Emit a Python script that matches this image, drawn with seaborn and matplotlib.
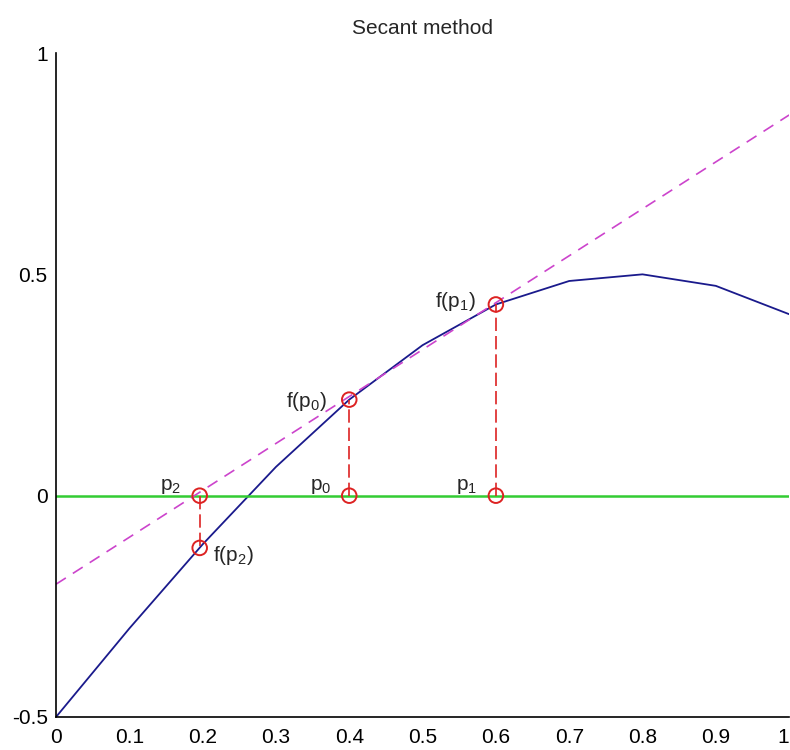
import numpy as np
import matplotlib
matplotlib.use("Agg")
import matplotlib.pyplot as plt
import seaborn as sns
import pandas as pd

x_curve = [0.0, 0.1, 0.2, 0.3, 0.4, 0.5, 0.6, 0.7, 0.8, 0.9, 1.0]
y_curve = [-0.5, -0.30, -0.11, 0.065, 0.217, 0.34, 0.432, 0.485, 0.50, 0.474, 0.41]

# secant line through (p0, f(p0)) and (p1, f(p1))
x_secant = [0.0, 1.0]
y_secant = [-0.20, 0.86]

# zero line
x_zero = [0.0, 1.0]
y_zero = [0.0, 0.0]

# iterates
p_names = ["0", "1", "2"]
p_vals = [0.4, 0.6, 0.196]
fp_vals = [0.217, 0.432, -0.118]

x_ticks = [0, 0.1, 0.2, 0.3, 0.4, 0.5, 0.6, 0.7, 0.8, 0.9, 1]
x_ticklabels = ["0", "0.1", "0.2", "0.3", "0.4", "0.5", "0.6", "0.7", "0.8", "0.9", "1"]
y_ticks = [-0.5, 0, 0.5, 1]
y_ticklabels = ["-0.5", "0", "0.5", "1"]

sns.set_style("white")
plt.rcParams['font.family'] = ['Liberation Sans', 'DejaVu Sans']
plt.rcParams['mathtext.default'] = 'regular'

fig = plt.figure(figsize=(7.9, 7.5), dpi=100)
ax = fig.add_axes([0.0709, 0.044, 0.928, 0.8853])

sns.lineplot(x=x_curve, y=y_curve, ax=ax, color="#1a1a8c", linewidth=1.3,
             sort=False, estimator=None)
sns.lineplot(x=x_zero, y=y_zero, ax=ax, color="#33cc33", linewidth=1.8,
             sort=False, estimator=None)
sns.lineplot(x=x_secant, y=y_secant, ax=ax, color="#cc44cc", linewidth=1.2,
             sort=False, estimator=None, linestyle=(0, (7, 5)))

# red dashed verticals from p_i to f(p_i)
for p, fp in zip(p_vals, fp_vals):
    ax.plot([p, p], [0, fp], color="#dd2222", linewidth=1.2, linestyle=(0, (8, 3)))

pts = pd.DataFrame({"x": p_vals + p_vals, "y": [0, 0, 0] + fp_vals})
sns.scatterplot(data=pts, x="x", y="y", ax=ax, s=110, marker="o",
                facecolors="none", edgecolor="#dd2222", linewidth=1.4, zorder=5)

fs = 15
# labels p_i on the zero line
for name, p in zip(p_names, p_vals):
    ax.text(p - 0.025, 0.0, "p$_%s$" % name, ha="right", va="bottom", fontsize=fs)
# labels f(p_i)
ax.text(p_vals[0] - 0.03, 0.187, "f(p$_0$)", ha="right", va="bottom", fontsize=fs)
ax.text(p_vals[1] - 0.028, 0.413, "f(p$_1$)", ha="right", va="bottom", fontsize=fs)
ax.text(p_vals[2] + 0.018, -0.11, "f(p$_2$)", ha="left", va="top", fontsize=fs)

ax.set_xlim(0, 1)
ax.set_ylim(-0.5, 1)
ax.set_xticks(x_ticks)
ax.set_xticklabels(x_ticklabels)
ax.set_yticks(y_ticks)
ax.set_yticklabels(y_ticklabels)
ax.tick_params(direction="in", length=7, width=1.2, labelsize=fs, colors="black")
ax.tick_params(axis="x", pad=8)
ax.tick_params(axis="y", pad=6)
# keep the last x label inside the figure edge
ax.get_xticklabels()[-1].set_horizontalalignment("right")
ax.set_xlabel("")
ax.set_ylabel("")
for side in ["top", "right"]:
    ax.spines[side].set_visible(False)
for side in ["left", "bottom"]:
    ax.spines[side].set_color("black")
    ax.spines[side].set_linewidth(1.2)
ax.set_title("Secant method", fontsize=fs, pad=14)

fig.savefig("out.png", dpi=100)
